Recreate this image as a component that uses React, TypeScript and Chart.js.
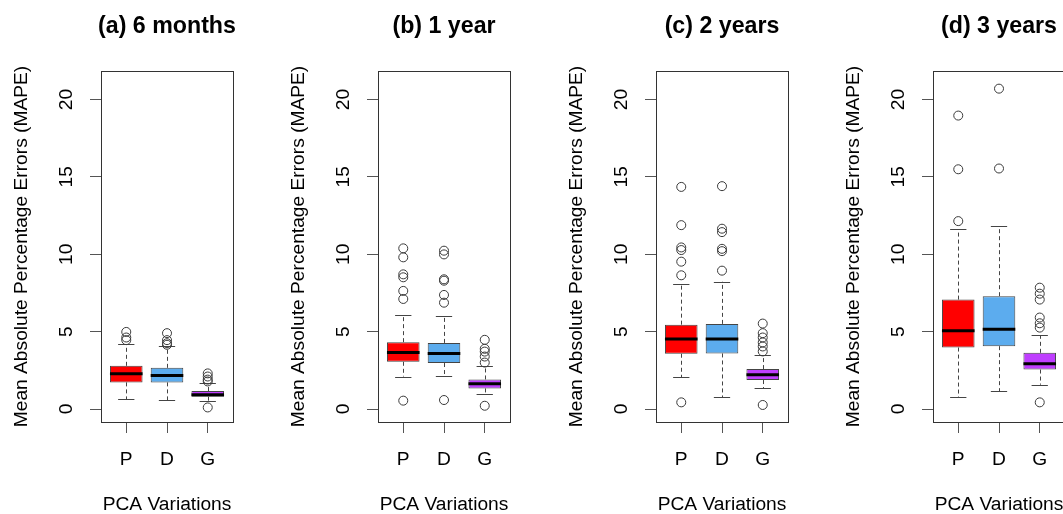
import React, { useEffect, useRef } from 'react';
import { Chart, registerables } from 'chart.js';

Chart.register(...registerables);

// ---------- data ----------
const groupLabels = ['P', 'D', 'G'];
const groupColors = ['#FF0000', '#5CACEE', '#BF3EFF'];
const yTickValues = [0, 5, 10, 15, 20];
const yLimits = [0, 21];
const yAxisTitle = 'Mean Absolute Percentage Errors (MAPE)';
const xAxisTitle = 'PCA Variations';
const panelTitles = ['(a) 6 months', '(b) 1 year', '(c) 2 years', '(d) 3 years'];

// each row: [lower whisker, Q1, median, Q3, upper whisker] for P, D, G
const stats6Months = [
  [0.64, 1.72, 2.28, 2.79, 4.19],
  [0.58, 1.72, 2.17, 2.66, 4.04],
  [0.54, 0.79, 0.92, 1.16, 1.68],
];
const outliers6Months = [
  [4.45, 4.62, 4.98],
  [4.15, 4.25, 4.45, 4.9],
  [0.1, 1.78, 1.9, 2.1, 2.3],
];

const stats1Year = [
  [2.1, 3.05, 3.65, 4.32, 6.1],
  [2.15, 2.97, 3.59, 4.27, 6.0],
  [0.99, 1.33, 1.63, 1.91, 2.77],
];
const outliers1Year = [
  [0.54, 7.11, 7.63, 8.51, 8.7, 9.8, 10.38],
  [0.58, 6.87, 7.37, 8.29, 8.38, 9.99, 10.23],
  [0.21, 3.0, 3.39, 3.71, 3.89, 4.47],
];

const stats2Years = [
  [2.04, 3.57, 4.53, 5.45, 8.08],
  [0.77, 3.59, 4.53, 5.5, 8.23],
  [1.35, 1.87, 2.21, 2.58, 3.46],
];
const outliers2Years = [
  [0.43, 8.64, 9.52, 10.27, 10.44, 11.88, 14.35],
  [8.94, 10.2, 10.35, 11.43, 11.65, 14.4],
  [0.26, 3.72, 4.04, 4.3, 4.62, 4.9, 5.52],
];

const stats3Years = [
  [0.75, 3.97, 5.05, 7.07, 11.6],
  [1.14, 4.06, 5.16, 7.29, 11.82],
  [1.57, 2.55, 2.92, 3.63, 4.77],
];
const outliers3Years = [
  [12.14, 15.49, 18.96],
  [15.54, 20.7],
  [0.43, 5.26, 5.54, 5.91, 7.07, 7.45, 7.84],
];

const panelStats = [stats6Months, stats1Year, stats2Years, stats3Years];
const panelOutliers = [outliers6Months, outliers1Year, outliers2Years, outliers3Years];

// ---------- styling ----------
const FONT = "'Liberation Sans', Arial, sans-serif";
const PANEL_W = 277;
const PANEL_H = 514;
const LABEL_SIZE = 19.2;
const TITLE_SIZE = 23.2;

function makeBoxPlugin(title: string, stats: number[][]) {
  return {
    id: 'rboxplot',
    beforeDatasetsDraw(chart: any) {
      const { ctx, scales } = chart;
      const xs = scales.x;
      const ys = scales.y;
      ctx.save();
      ctx.strokeStyle = '#444';
      ctx.lineWidth = 1;
      stats.forEach((s, i) => {
        const cx = Math.round(xs.getPixelForValue(i + 1)) + 0.5;
        // dashed whiskers
        ctx.setLineDash([4, 3]);
        ctx.beginPath();
        ctx.moveTo(cx, ys.getPixelForValue(s[3]));
        ctx.lineTo(cx, ys.getPixelForValue(s[4]));
        ctx.moveTo(cx, ys.getPixelForValue(s[1]));
        ctx.lineTo(cx, ys.getPixelForValue(s[0]));
        ctx.stroke();
        // staples
        ctx.setLineDash([]);
        const x0 = xs.getPixelForValue(i + 1 - 0.2);
        const x1 = xs.getPixelForValue(i + 1 + 0.2);
        ctx.beginPath();
        for (const v of [s[0], s[4]]) {
          const py = Math.round(ys.getPixelForValue(v)) + 0.5;
          ctx.moveTo(x0, py);
          ctx.lineTo(x1, py);
        }
        ctx.stroke();
      });
      ctx.restore();
    },
    afterDatasetDraw(chart: any, args: any) {
      if (args.index !== 0) return;
      const { ctx, scales } = chart;
      const xs = scales.x;
      const ys = scales.y;
      ctx.save();
      ctx.strokeStyle = '#000';
      ctx.lineWidth = 3;
      stats.forEach((s, i) => {
        const py = ys.getPixelForValue(s[2]);
        ctx.beginPath();
        ctx.moveTo(xs.getPixelForValue(i + 1 - 0.4), py);
        ctx.lineTo(xs.getPixelForValue(i + 1 + 0.4), py);
        ctx.stroke();
      });
      ctx.restore();
    },
    afterDraw(chart: any) {
      const { ctx, chartArea, scales } = chart;
      const ys = scales.y;
      ctx.save();
      // frame
      ctx.strokeStyle = '#333';
      ctx.lineWidth = 1;
      ctx.strokeRect(
        Math.round(chartArea.left) + 0.5,
        Math.round(chartArea.top) + 0.5,
        Math.round(chartArea.right - chartArea.left),
        Math.round(chartArea.bottom - chartArea.top)
      );
      // rotated y tick labels (R style, parallel to axis)
      ctx.fillStyle = '#000';
      ctx.font = `${LABEL_SIZE}px ${FONT}`;
      ctx.textAlign = 'center';
      ctx.textBaseline = 'alphabetic';
      ys.ticks.forEach((t: any) => {
        const py = ys.getPixelForValue(t.value);
        ctx.save();
        ctx.translate(chartArea.left - 29.5, py);
        ctx.rotate(-Math.PI / 2);
        ctx.fillText(String(t.value), 0, 0);
        ctx.restore();
      });
      // main title
      ctx.font = `bold ${TITLE_SIZE}px ${FONT}`;
      ctx.textAlign = 'center';
      ctx.textBaseline = 'alphabetic';
      ctx.fillText(title, (chartArea.left + chartArea.right) / 2, 33.3);
      ctx.restore();
    },
  };
}

function Panel({ index, left }: { index: number; left: number }) {
  const ref = useRef<HTMLCanvasElement | null>(null);
  useEffect(() => {
    const canvas = ref.current;
    if (!canvas) return;
    const stats = panelStats[index];
    const outs = panelOutliers[index];
    const yPad = 0.04 * (yLimits[1] - yLimits[0]);
    const xPad = 0.04 * groupLabels.length;

    const chart = new Chart(canvas, {
      type: 'scatter',
      data: {
        datasets: [
          {
            type: 'bar',
            data: stats.map((s, i) => ({ x: i + 1, y: [s[1], s[3]] })),
            backgroundColor: groupColors,
            borderColor: '#444',
            borderWidth: 1,
            borderSkipped: false,
            barPercentage: 0.8,
            categoryPercentage: 1,
            order: 1,
          } as any,
          {
            type: 'scatter',
            data: outs.flatMap((arr, i) => arr.map((v) => ({ x: i + 1, y: v }))),
            pointStyle: 'circle',
            pointRadius: 4.5,
            pointHoverRadius: 4.5,
            backgroundColor: 'rgba(0,0,0,0)',
            borderColor: '#3a3a3a',
            borderWidth: 1,
            order: 0,
          } as any,
        ],
      },
      options: {
        animation: false,
        responsive: false,
        devicePixelRatio: 1,
        events: [],
        layout: { padding: { top: 71, right: 44, bottom: 0, left: 0 } },
        plugins: {
          legend: { display: false },
          tooltip: { enabled: false },
          title: { display: false },
        },
        scales: {
          x: {
            type: 'linear',
            position: 'bottom',
            min: 0.5 - xPad,
            max: groupLabels.length + 0.5 + xPad,
            offset: false,
            afterBuildTicks: (scale: any) => {
              scale.ticks = groupLabels.map((_, i) => ({ value: i + 1 }));
            },
            afterFit: (scale: any) => {
              scale.height = 92;
            },
            ticks: {
              display: true,
              autoSkip: false,
              maxRotation: 0,
              minRotation: 0,
              padding: 15,
              color: '#000',
              font: { size: LABEL_SIZE, family: FONT },
              callback: (v: any) => groupLabels[Math.round(Number(v)) - 1] ?? '',
            },
            grid: {
              display: true,
              offset: false,
              drawOnChartArea: false,
              drawTicks: true,
              tickLength: 11,
              color: '#555',
              lineWidth: 1,
            },
            border: { display: false },
            title: {
              display: true,
              text: xAxisTitle,
              color: '#000',
              font: { size: LABEL_SIZE, family: FONT, lineHeight: 1 },
              padding: { top: 0, bottom: 0 },
            },
          },
          y: {
            type: 'linear',
            position: 'left',
            min: yLimits[0] - yPad,
            max: yLimits[1] + yPad,
            afterBuildTicks: (scale: any) => {
              scale.ticks = yTickValues.map((v) => ({ value: v }));
            },
            afterFit: (scale: any) => {
              scale.width = 101;
            },
            ticks: { display: false },
            grid: {
              display: true,
              drawOnChartArea: false,
              drawTicks: true,
              tickLength: 11,
              color: '#555',
              lineWidth: 1,
            },
            border: { display: false },
            title: {
              display: true,
              text: yAxisTitle,
              color: '#000',
              font: { size: LABEL_SIZE, family: FONT, lineHeight: 1 },
              padding: { top: 12, bottom: 0 },
            },
          },
        },
      } as any,
      plugins: [makeBoxPlugin(panelTitles[index], stats)],
    });
    return () => chart.destroy();
  }, [index]);

  return (
    <canvas
      ref={ref}
      width={PANEL_W}
      height={PANEL_H}
      style={{ position: 'absolute', left, top: 0, width: PANEL_W, height: PANEL_H }}
    />
  );
}

export default function App() {
  return (
    <div
      style={{
        position: 'fixed',
        left: 0,
        top: 0,
        width: 1063,
        height: 514,
        overflow: 'hidden',
        background: '#fff',
      }}
    >
      {panelTitles.map((_, i) => (
        <Panel key={i} index={i} left={Math.round(i * 277.33)} />
      ))}
    </div>
  );
}
